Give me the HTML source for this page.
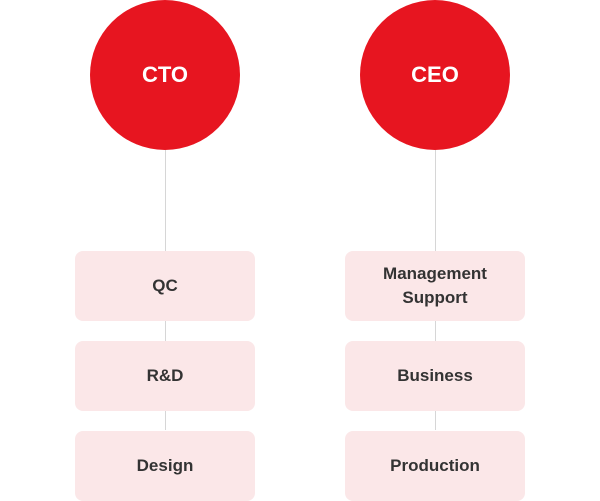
<!DOCTYPE html>
<html><head><style>
body{margin:0;width:600px;height:500px;background:#fff;position:relative;font-family:"Liberation Sans",sans-serif;overflow:hidden}
.c{position:absolute;width:150px;height:150px;border-radius:50%;background:#e71520;color:#fff;font-weight:bold;font-size:22px;display:flex;align-items:center;justify-content:center;top:0}
.l{position:absolute;width:1px;background:#d6d6d6}
.b{position:absolute;width:180px;height:70px;border-radius:8px;background:#fbe7e8;color:#333;font-weight:bold;font-size:17px;display:flex;align-items:center;justify-content:center;text-align:center;line-height:24px}
</style></head><body>
<div class="l" style="left:165px;top:150px;height:280px"></div>
<div class="l" style="left:435px;top:150px;height:280px"></div>
<div class="c" style="left:90px">CTO</div>
<div class="c" style="left:360px">CEO</div>
<div class="b" style="left:75px;top:251px">QC</div>
<div class="b" style="left:75px;top:341px">R&amp;D</div>
<div class="b" style="left:75px;top:431px">Design</div>
<div class="b" style="left:345px;top:251px">Management<br>Support</div>
<div class="b" style="left:345px;top:341px">Business</div>
<div class="b" style="left:345px;top:431px">Production</div>
</body></html>
